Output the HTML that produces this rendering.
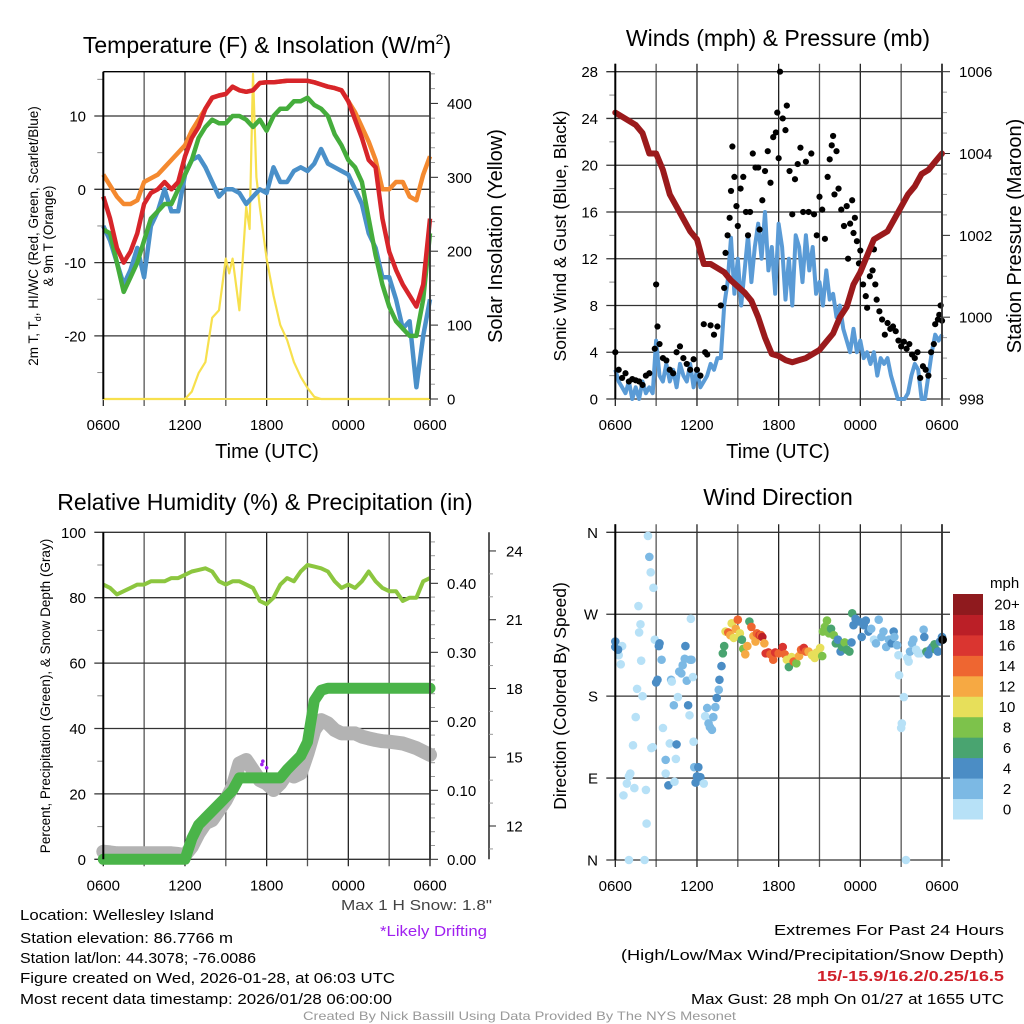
<!DOCTYPE html>
<html><head><meta charset="utf-8">
<style>
html,body{margin:0;padding:0;background:#fff;}
svg{display:block;font-family:"Liberation Sans",sans-serif;}
</style></head>
<body>
<svg id="fig" width="1024" height="1024" viewBox="0 0 1024 1024" xmlns="http://www.w3.org/2000/svg">
<g id="p1"></g>
<g id="p2"></g>
<g id="p3"></g>
<g id="p4"></g>

<text x="267" y="53" font-size="23" text-anchor="middle">Temperature (F) &amp; Insolation (W/m<tspan font-size="14" dy="-9">2</tspan><tspan dy="9">)</tspan></text>
<text x="778" y="46" font-size="23" text-anchor="middle">Winds (mph) &amp; Pressure (mb)</text>
<text x="265" y="510" font-size="23" text-anchor="middle">Relative Humidity (%) &amp; Precipitation (in)</text>
<text x="778" y="505" font-size="23" text-anchor="middle">Wind Direction</text>

<text x="267" y="458" font-size="20" text-anchor="middle">Time (UTC)</text>
<text x="778" y="458" font-size="20" text-anchor="middle">Time (UTC)</text>

<g transform="translate(38,236) rotate(-90)">
<text x="0" y="0" font-size="13.5" text-anchor="middle">2m T, T<tspan font-size="9" dy="3">d</tspan><tspan dy="-3">, HI/WC (Red, Green, Scarlet/Blue)</tspan></text>
<text x="0" y="15" font-size="13.5" text-anchor="middle">&amp; 9m T (Orange)</text>
</g>
<text transform="translate(502,236) rotate(-90)" font-size="20" text-anchor="middle">Solar Insolation (Yellow)</text>
<text transform="translate(566,236) rotate(-90)" font-size="17.5" text-anchor="middle">Sonic Wind &amp; Gust (Blue, Black)</text>
<text transform="translate(1021,236) rotate(-90)" font-size="20" text-anchor="middle">Station Pressure (Maroon)</text>
<text transform="translate(50,696) rotate(-90)" font-size="13.5" text-anchor="middle">Percent, Precipitation (Green), &amp; Snow Depth (Gray)</text>
<text transform="translate(566,696) rotate(-90)" font-size="17.5" text-anchor="middle">Direction (Colored By Speed)</text>

<g font-size="15">
<text x="20" y="920" textLength="194" lengthAdjust="spacingAndGlyphs">Location: Wellesley Island</text>
<text x="20" y="943" textLength="213" lengthAdjust="spacingAndGlyphs">Station elevation: 86.7766 m</text>
<text x="20" y="963" textLength="236" lengthAdjust="spacingAndGlyphs">Station lat/lon: 44.3078; -76.0086</text>
<text x="20" y="983" textLength="375" lengthAdjust="spacingAndGlyphs">Figure created on Wed, 2026-01-28, at 06:03 UTC</text>
<text x="20" y="1004" textLength="372" lengthAdjust="spacingAndGlyphs">Most recent data timestamp: 2026/01/28 06:00:00</text>
<text x="341" y="910" fill="#444" textLength="151" lengthAdjust="spacingAndGlyphs">Max 1 H Snow: 1.8"</text>
<text x="380" y="936" fill="#a020f0" textLength="107" lengthAdjust="spacingAndGlyphs">*Likely Drifting</text>
<text x="774" y="935" textLength="230" lengthAdjust="spacingAndGlyphs">Extremes For Past 24 Hours</text>
<text x="621" y="960" textLength="383" lengthAdjust="spacingAndGlyphs">(High/Low/Max Wind/Precipitation/Snow Depth)</text>
<text x="817" y="981" fill="#d0202a" font-weight="bold" textLength="187" lengthAdjust="spacingAndGlyphs">15/-15.9/16.2/0.25/16.5</text>
<text x="691" y="1004" textLength="313" lengthAdjust="spacingAndGlyphs">Max Gust: 28 mph On 01/27 at 1655 UTC</text>
<text x="303" y="1020" font-size="12" fill="#999" textLength="433" lengthAdjust="spacingAndGlyphs">Created By Nick Bassill Using Data Provided By The NYS Mesonet</text>
</g>
</svg>
<script>
// ---------- data (hours since 0600 UTC) ----------
const hrs = [0,0.5,1,1.5,2,2.5,3,3.5,4,4.5,5,5.5,6,6.5,7,7.5,8,8.5,9,9.5,10,10.5,11,11.5,12,12.5,13,13.5,14,14.5,15,15.5,16,16.5,17,17.5,18,18.5,19,19.5,20,20.5,21,21.5,22,22.5,23,23.5,24];
const tempRed = [-1,-4,-8,-10,-8.5,-6,-2,-0.5,0,1,0,1,4.5,7,8.5,11,12.5,12.8,13,14,13.5,13.3,13.5,14.5,14.6,14.6,14.7,14.8,14.8,14.8,14.8,14.6,14.3,14,13.8,13.5,12,9.5,7,4,3,-4,-8.5,-11,-13,-14.5,-16,-13,-4];
const temp9m = [2,0.5,-1,-2,-2,-1.5,1,1.5,2,3,4,5,6,8,9.5,11,12.5,12.8,13,14,13.5,13.3,13.5,14.5,14.6,14.6,14.7,14.8,14.8,14.8,14.8,14.6,14.3,14,13.8,13.5,12,10.5,8.5,6.5,4,0,0,1,1,-1,-1.5,2,4.5];
const dewGreen = [-5.5,-6,-10,-14,-12,-10,-7,-4,-3,-2,-2,0,2,4,7,8.5,9.5,9,9,10,10,9.5,8.5,9.5,8,10,11,11,12,12,12.5,11.5,11,10,7.5,6,4,3,1,-4,-9,-13,-16,-18,-19,-20,-20,-15,-6];
const windChill = [-5,-7,-10,-13,-11,-8,-12,-5,-3,0,-3,-3,2,4,4.5,3,1,-1,0,0,-0.5,-2,-1,0,-0.5,3,1,1,2.5,3,2.5,3.5,5.5,3.5,3,2.5,2,0,-2,-6,-8,-12,-12,-15,-19,-18,-27,-20,-15];
const insolHrs = [0,6,6.5,7,7.5,8,8.5,9,9.25,9.5,10,10.5,10.75,11,11.25,11.5,12,12.5,13,13.5,14,14.5,15,15.5,16,24];
const insol = [0,0,10,35,50,110,120,190,170,190,120,260,230,440,300,260,190,140,100,80,50,30,15,3,0,0];

const pressure = [1005,1004.9,1004.8,1004.7,1004.5,1004.0,1004.0,1003.6,1003.0,1002.7,1002.4,1002.1,1001.9,1001.3,1001.3,1001.2,1001.1,1000.9,1000.75,1000.6,1000.4,1000.0,999.5,999.1,999.05,998.95,998.9,998.95,999.0,999.1,999.2,999.4,999.6,1000.0,1000.25,1000.8,1001.1,1001.5,1001.9,1002.0,1002.1,1002.4,1002.7,1003.0,1003.2,1003.5,1003.6,1003.8,1004.0];
const windHrs = [0,0.25,0.5,0.75,1,1.25,1.5,1.75,2,2.25,2.5,2.75,3,3.25,3.5,3.75,4,4.25,4.5,4.75,5,5.25,5.5,5.75,6,6.25,6.5,6.75,7,7.25,7.5,7.75,8,8.25,8.5,8.75,9,9.25,9.5,9.75,10,10.25,10.5,10.75,11,11.25,11.5,11.75,12,12.25,12.5,12.75,13,13.25,13.5,13.75,14,14.25,14.5,14.75,15,15.25,15.5,15.75,16,16.25,16.5,16.75,17,17.25,17.5,17.75,18,18.25,18.5,18.75,19,19.25,19.5,19.75,20,20.25,20.5,20.75,21,21.25,21.5,21.75,22,22.25,22.5,22.75,23,23.25,23.5,23.75,24];
const windSpd = [2.5,1.5,1,0.5,1.5,0,1,0,1.5,0.5,1,0.5,5,2,1.5,3,1.5,2.5,1,3,2,1.5,3,1,2.5,1,1.5,2,3,2.5,3.5,3.5,8,10,13.8,9,12,8,11,14,10,13,15,12,16,11,13,9,15,13,8.5,12,8,14,13,10,14,11,13,9,10,8,11,8.5,9,7,8,6,5,4,6,4,5,3.5,4,3,4,2,3.5,3,3.5,2,1,0,0,0,0.5,2,3,2.5,0,0,2,4,5.5,5,5.5];
const gustHrs = [0,0.25,0.5,0.75,1,1.25,1.5,1.75,2,2.25,2.5,2.9,3,3.1,3.25,3.5,3.75,4,4.25,4.5,4.75,5,5.25,5.5,5.75,6,6.25,6.5,6.6,6.75,7,7.25,7.5,7.75,8,8.1,8.25,8.4,8.5,8.6,8.75,8.9,9,9.2,9.4,9.6,9.75,9.9,10.1,10.3,10.5,10.6,10.8,11,11.2,11.4,11.6,11.8,11.9,12,12.1,12.3,12.5,12.6,12.8,13,13.2,13.4,13.6,13.8,14,14.2,14.4,14.6,14.8,15,15.2,15.4,15.6,15.75,15.9,16,16.1,16.25,16.4,16.6,16.8,17,17.1,17.25,17.4,17.5,17.6,17.75,17.9,18,18.2,18.4,18.5,18.7,18.9,19,19.1,19.2,19.4,19.6,19.8,20,20.2,20.4,20.6,20.8,21,21.2,21.4,21.6,21.8,22,22.2,22.4,22.6,22.8,23,23.2,23.4,23.5,23.7,23.8,23.9,24];
const gust = [4,2.5,1.8,2.2,1.5,1.7,1.6,1.5,1.2,2,2.2,4.3,9.8,6.2,4.7,3.5,3.3,2.5,2.2,4,4.5,3.5,3,2.5,3.4,2.5,2,6.4,4,3.8,6.3,5.5,6.2,8,9.5,12.5,14,15.5,17.8,21.6,19,16.5,14.8,18,19,16,14,16,21,19.8,19.8,14.5,17,19.5,21.2,18.5,22.4,22.8,24.5,20.6,28,24,23,25.1,19.5,15.8,18.8,20.1,21.5,16,20.3,16,21,15.8,14,17.3,16.2,13.7,19,20.5,21.7,22.5,17.5,21.2,18,16.2,14.8,16.5,12,15,17,14.2,15.5,13.5,11.6,12.7,9.8,8.8,7.8,10.5,11,12.8,9.8,8.5,7.5,6.8,5.5,6.5,6,6.2,5.8,5,4.5,4.9,4.3,4.7,3.8,3.5,4,1.8,2.8,2.5,2,4,4.7,6.4,6.8,7.2,8,6.7];

const rh = [84,83,81,82,83,84,84,85,85,85,86,86,87,88,88.5,89,88,85,84,85,85,84,83,79,78,80,84,86,85,88,90,89.5,89,88,85,83,84,83,85,88,85,83,82,82,79,80,80,85,86];
const precip = [0,0,0,0,0,0,0,0,0,0,0,0,0,0.03,0.05,0.06,0.07,0.08,0.09,0.1,0.118,0.118,0.118,0.118,0.118,0.118,0.118,0.13,0.14,0.15,0.17,0.23,0.245,0.248,0.248,0.248,0.248,0.248,0.248,0.248,0.248,0.248,0.248,0.248,0.248,0.248,0.248,0.248,0.248];
const snow = [10.88,10.85,10.81,10.81,10.81,10.81,10.81,10.81,10.81,10.81,10.81,10.78,10.73,11.1,11.68,12.12,12.26,12.7,13.13,13.71,14.73,14.88,14.44,14.0,13.86,13.57,13.86,14.3,14.16,14.3,15.17,16.19,16.62,16.48,16.19,16.04,16.04,16.04,15.9,15.82,15.75,15.7,15.68,15.64,15.6,15.5,15.4,15.25,15.1];
const driftHrs = [11.65,11.72,12.0];
const driftPct = [29,30,28];

const dirHrs = [0,0,0.25,0.5,0.4,0.2,0.6,0.85,1,1.1,1.3,1.4,1.5,1.6,1.7,1.75,1.85,1.9,2.0,2.15,1.0,2.25,2.3,2.4,2.5,2.6,2.65,2.75,2.8,2.9,3.0,3.1,3.2,3.25,3.4,3.5,3.7,3.7,3.9,4.0,4.1,4.15,4.3,4.35,4.45,4.5,4.6,4.7,4.85,4.95,5.1,5.15,5.25,5.35,5.45,5.5,5.6,5.55,5.7,5.75,5.8,5.9,6.0,6.1,6.25,6.5,6.6,6.75,6.85,6.95,7.1,7.2,7.35,7.45,7.6,7.65,7.8,7.9,8.0,8.1,8.3,8.45,8.55,8.7,8.85,9.0,9.15,9.3,9.4,9.55,9.7,9.85,10.0,10.15,10.3,10.4,10.6,10.7,10.8,10.95,11.05,11.25,11.4,11.6,11.75,12.0,12.3,12.45,12.6,12.75,12.95,13.1,13.3,13.5,13.65,13.85,14.0,14.2,14.45,14.65,14.8,15.05,15.2,15.25,15.4,15.55,15.7,15.85,16.05,16.2,16.35,16.55,16.65,16.85,17.0,17.2,17.35,17.4,17.5,17.65,17.9,18.1,18.25,18.4,18.6,18.8,19.0,19.15,19.35,19.55,19.7,19.9,20.1,20.3,20.45,20.5,20.7,20.8,20.85,21.0,21.05,21.2,21.35,21.45,21.55,21.65,21.8,21.9,22.1,22.25,22.4,22.65,22.7,22.85,23.0,23.15,23.3,23.45,23.55,23.7,23.85,24.0,24.05];
const dirDeg = [240,234,225,235,215,231,71,84,92,95,126,79,157,188,279,250,259,219,180,0,0,77,40,356,333,316,123,124,299,242,195,198,235,238,220,145,95,110,82,128,198,196,170,86,111,127,179,207,205,214,221,235,197,170,159,220,220,265,201,130,102,85,92,102,91,84,158,167,150,146,143,157,168,178,187,198,213,227,235,251,250,247,260,244,254,264,249,242,232,226,235,262,256,246,240,249,247,247,245,238,227,228,226,220,228,227,234,226,220,212,223,218,216,224,231,233,229,229,225,222,228,233,224,251,256,263,249,254,247,238,242,229,234,239,231,229,239,271,258,265,262,245,258,263,251,254,242,238,264,245,251,234,242,238,251,245,236,225,203,145,150,179,0,222,218,229,238,242,231,227,227,253,245,229,226,231,234,237,231,229,240,245,242];
const dirSpd = [5,5,1,1,1,5,1,1,1,1,1,1,1,1,1,1,1,1,1,1,1,1,1,1,3,1,1,1,1,1,5,5,5,5,3,1,1,3,5,1,3,1,3,1,1,5,1,3,3,3,3,5,3,5,1,3,3,1,1,1,3,5,5,5,5,1,1,3,3,3,3,3,3,5,3,5,5,7,7,11,15,13,11,11,13,15,11,7,9,13,13,7,15,13,13,15,17,15,19,13,17,17,15,15,17,15,17,15,11,7,11,15,9,13,15,17,15,13,11,11,11,11,9,9,9,9,9,7,9,7,5,5,7,9,7,7,5,7,5,5,5,5,5,5,5,3,1,3,3,3,3,3,3,5,5,3,3,1,1,1,1,1,1,1,1,3,3,3,1,1,1,3,5,7,5,5,5,7,7,5,5,5];

const speedBins = ['0','2','4','6','8','10','12','14','16','18','20+'];
const binColors = ['#b7e1f7','#7cb9e4','#4b8dc5','#49a470','#7dc24b','#e7df5a','#f6a943','#ee6631','#da3530','#bb1f27','#8f1a1e'];

// ---------- helpers ----------
const NS = 'http://www.w3.org/2000/svg';
function mk(parent, tag, attrs){
  const el = document.createElementNS(NS, tag);
  for (const k in attrs) el.setAttribute(k, attrs[k]);
  parent.appendChild(el);
  return el;
}
function linePath(xs, ys, fx, fy){
  return xs.map((x,i)=>(i?'L':'M')+fx(x).toFixed(1)+','+fy(ys[i]).toFixed(1)).join('');
}
const X0L = 103.3, X1L = 430, X0R = 615.3, X1R = 942;
const xL = h => X0L + h*(X1L-X0L)/24;
const xR = h => X0R + h*(X1R-X0R)/24;
const xLabels = ['0600','1200','1800','0000','0600'];

function frame(g, x0, x1, yT, yB, fx){
  for (let h=0; h<=24; h+=3){
    const l = mk(g,'line',{x1:fx(h),x2:fx(h),y1:yT,y2:yB+7,stroke:(h%6===0)?'#222':'#555','stroke-width':1.3});
    
    
  }
  xLabels.forEach((t,i)=>{
    const tx = mk(g,'text',{x:fx(i*6),y:yB+31,'font-size':15,'text-anchor':'middle'});
    tx.textContent = t;
    
    
  });
}
function hgrid(g, x0, x1, y, label, lx){
  const l = mk(g,'line',{x1:x0-9,x2:x1,y1:y,y2:y,stroke:'#333','stroke-width':1.3});
  
  
  const t = mk(g,'text',{x:lx,y:y+5.5,'font-size':15,'text-anchor':'end'});
  t.textContent = label;
  
  
}
function minorL(g, x0, y){
  const l = mk(g,'line',{x1:x0-6,x2:x0,y1:y,y2:y,stroke:'#888','stroke-width':1});
  
  
}
function rTick(g, x1, y, len, label){
  const l = mk(g,'line',{x1:x1,x2:x1+len,y1:y,y2:y,stroke:len>6?'#222':'#999','stroke-width':1});
  
  
  if (label!==undefined){
    const t = mk(g,'text',{x:x1+len+9,y:y+5.5,'font-size':15,'text-anchor':'start'});
    t.textContent = label;
    
    
  }
}
function border(g,x0,x1,yT,yB){
  const a = mk(g,'line',{x1:x0,x2:x0,y1:yT,y2:yB,stroke:'#000','stroke-width':2});
  
  
  const b = mk(g,'line',{x1:x1,x2:x1,y1:yT,y2:yB,stroke:'#333','stroke-width':1.8});
  
  
}

// ---------- Panel 1 ----------
(function(){
  const g = document.getElementById('p1');
  const yT = t => 189.3 - t*7.33;
  const yI = v => 399 - v*0.739;
  const top = 71.7, bot = 399;
  frame(g, X0L, X1L, top, bot, xL);
  [10,0,-10,-20].forEach(v=>hgrid(g,X0L,X1L,yT(v),String(v),86));
  [15,5,-5,-15,-25].forEach(v=>minorL(g,X0L,yT(v)));
  const tl = mk(g,'line',{x1:X0L,x2:X1L,y1:top,y2:top,stroke:'#000','stroke-width':1.3});
  
  
  for (let v=0; v<=440; v+=20){
    if (v%100===0) rTick(g,X1L,yI(v),8,String(v)); else rTick(g,X1L,yI(v),5);
  }
  const ys = mk(g,'path',{d:linePath(insolHrs,insol,xL,yI),fill:'none',stroke:'#f7e04d','stroke-width':2.2,'stroke-linejoin':'round'});
  
  
  const s0 = mk(g,'path',{d:linePath(hrs,temp9m,xL,yT),fill:'none',stroke:'#f4892f','stroke-width':4.5,'stroke-linejoin':'round'});
  
  
  const s1 = mk(g,'path',{d:linePath(hrs,windChill,xL,yT),fill:'none',stroke:'#4a90c9','stroke-width':4.5,'stroke-linejoin':'round'});
  
  
  const s2 = mk(g,'path',{d:linePath(hrs,dewGreen,xL,yT),fill:'none',stroke:'#45ad3c','stroke-width':4.5,'stroke-linejoin':'round'});
  
  
  const s3 = mk(g,'path',{d:linePath(hrs,tempRed,xL,yT),fill:'none',stroke:'#d7252a','stroke-width':4.5,'stroke-linejoin':'round'});
  
  
  const by = mk(g,'line',{x1:X0L,x2:X1L,y1:bot,y2:bot,stroke:'#f7e04d','stroke-width':2});
  
  
  border(g,X0L,X1L,top,bot);
})();

// ---------- Panel 2 ----------
(function(){
  const g = document.getElementById('p2');
  const yW = v => 399 - v*(327.3/28);
  const yP = p => 399 - (p-998)*(327.3/8);
  const top = 71.7, bot = 399;
  frame(g, X0R, X1R, top-8, bot, xR);
  for (let v=0; v<=28; v+=4) hgrid(g,X0R,X1R,yW(v),String(v),598);
  for (let v=2; v<28; v+=4) minorL(g,X0R,yW(v));
  for (let p=998; p<=1006.01; p+=0.5){
    if (Math.abs(p%2)<0.01) rTick(g,X1R,yP(p),8,String(p)); else rTick(g,X1R,yP(p),5);
  }
  const wl = mk(g,'path',{d:linePath(windHrs,windSpd,xR,yW),fill:'none',stroke:'#5a9bd6','stroke-width':4,'stroke-linejoin':'round'});
  
  
  gustHrs.forEach((h,i)=>{
    const c = mk(g,'circle',{cx:xR(h),cy:yW(gust[i]),r:3.1,fill:'#000'});
    
    
  });
  const pl = mk(g,'path',{d:linePath(hrs,pressure,xR,yP),fill:'none',stroke:'#9b1a1c','stroke-width':6,'stroke-linejoin':'round','stroke-linecap':'round'});
  
  
  border(g,X0R,X1R,top-8,bot);
})();

// ---------- Panel 3 ----------
(function(){
  const g = document.getElementById('p3');
  const yRH = v => 859.3 - v*3.27;
  const yPr = v => 859.3 - v*690;
  const ySn = v => 826 - (v-12)*22.92;
  const top = 532.3, bot = 859.3;
  frame(g, X0L, X1L, top, bot, xL);
  for (let v=0; v<=100; v+=20) hgrid(g,X0L,X1L,yRH(v),String(v),86);
  for (let v=10; v<100; v+=20) minorL(g,X0L,yRH(v));
  for (let k=0; k<=23; k++){
    const v = k*0.02;
    if (k%5===0) rTick(g,X1L,yPr(v),8,v.toFixed(2)); else rTick(g,X1L,yPr(v),5);
  }
  const sa = mk(g,'line',{x1:489,x2:489,y1:top,y2:bot,stroke:'#222','stroke-width':1.5});
  
  
  for (let v=11; v<=24; v++){
    const tk = mk(g,'line',{x1:489,x2:489+(v%3===0?7:4),y1:ySn(v),y2:ySn(v),stroke:v%3===0?'#222':'#999','stroke-width':1});
    
    
    if (v%3===0){
      const t = mk(g,'text',{x:506,y:ySn(v)+5.5,'font-size':15});
      t.textContent = String(v);
      
      
    }
  }
  const sn = mk(g,'path',{d:linePath(hrs,snow,xL,ySn),fill:'none',stroke:'#b3b3b3','stroke-width':14,'stroke-linejoin':'round','stroke-linecap':'round'});
  
  
  const pr = mk(g,'path',{d:linePath(hrs,precip,xL,yPr),fill:'none',stroke:'#4ab449','stroke-width':11,'stroke-linejoin':'round','stroke-linecap':'round'});
  
  
  const rl = mk(g,'path',{d:linePath(hrs,rh,xL,yRH),fill:'none',stroke:'#8cc63f','stroke-width':4,'stroke-linejoin':'round'});
  
  
  driftHrs.forEach((h,i)=>{
    const c = mk(g,'circle',{cx:xL(h),cy:yRH(driftPct[i]),r:1.8,fill:'#a020f0'});
    
    
  });
  border(g,X0L,X1L,top,bot);
})();

// ---------- Panel 4 ----------
(function(){
  const g = document.getElementById('p4');
  const yD = d => 860 - d*(327.7/360);
  const top = 532.3, bot = 860;
  frame(g, X0R, X1R, top-8, bot, xR);
  [[360,'N'],[270,'W'],[180,'S'],[90,'E'],[0,'N']].forEach(([d,l])=>hgrid(g,X0R,X1R+8,yD(d),l,598));
  dirHrs.forEach((h,i)=>{
    const b = Math.min(10, Math.floor(dirSpd[i]/2));
    const c = mk(g,'circle',{cx:xR(h),cy:yD(dirDeg[i]),r:4.3,fill:binColors[b]});
    
    
  });
  border(g,X0R,X1R,top-8,bot);
  const cbTop = 594, cbBot = 819, n = speedBins.length, bh = (cbBot-cbTop)/n;
  const cbTitle = mk(g,'text',{x:990,y:588,'font-size':15});
  cbTitle.textContent = 'mph';
  
  
  speedBins.forEach((lab,i)=>{
    const k = n-1-i;
    const r = mk(g,'rect',{x:953,y:cbTop+k*bh,width:30,height:bh+0.5,fill:binColors[i]});
    
    
    const t = mk(g,'text',{x:1007,y:cbTop+k*bh+bh/2+5.5,'font-size':15,'text-anchor':'middle'});
    t.textContent = lab;
    
    
  });
})();
</script>
</body></html>
